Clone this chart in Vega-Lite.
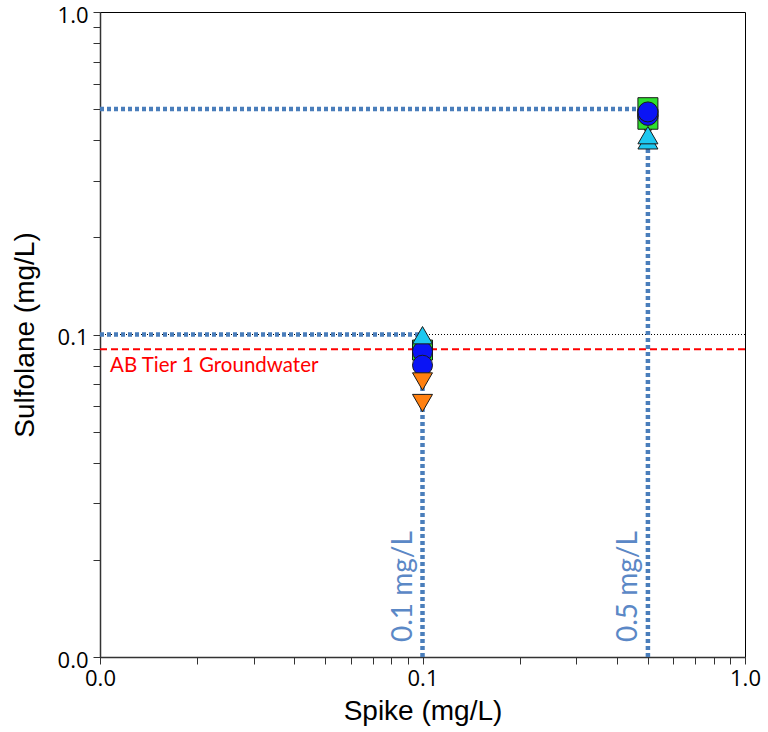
{
  "$schema": "https://vega.github.io/schema/vega-lite/v6.json",
  "width": 645,
  "height": 645,
  "autosize": {"type": "none"},
  "padding": {"left": 100, "top": 12, "right": 23, "bottom": 75},
  "background": "white",
  "config": {
    "view": {"stroke": "#000000", "strokeWidth": 1},
    "axis": {"grid": false, "domainColor": "#333333", "domainWidth": 1.5, "tickColor": "#333333", "labelFont": "Open Sans", "labelFontSize": 22, "labelColor": "#000000", "titleFont": "Liberation Sans", "titleFontSize": 28, "titleFontWeight": "normal", "titleColor": "#000000", "labelOverlap": false, "labelFlush": false}
  },
  "datasets": {
    "points": [
      {"spike": 0.5, "sulfolane": 0.44, "series": "D"},
      {"spike": 0.5, "sulfolane": 0.505, "series": "B"},
      {"spike": 0.5, "sulfolane": 0.465, "series": "B"},
      {"spike": 0.5, "sulfolane": 0.478, "series": "C"},
      {"spike": 0.5, "sulfolane": 0.49, "series": "C"},
      {"spike": 0.5, "sulfolane": 0.4, "series": "A"},
      {"spike": 0.5, "sulfolane": 0.415, "series": "A"},
      {"spike": 0.1, "sulfolane": 0.0895, "series": "B"},
      {"spike": 0.1, "sulfolane": 0.0885, "series": "C"},
      {"spike": 0.1, "sulfolane": 0.0803, "series": "C"},
      {"spike": 0.1, "sulfolane": 0.0715, "series": "D"},
      {"spike": 0.1, "sulfolane": 0.0613, "series": "D"},
      {"spike": 0.1, "sulfolane": 0.0995, "series": "A"}
    ],
    "segments": [
      {"x1": 0.01, "x2": 0.1, "y1": 0.1, "y2": 0.1},
      {"x1": 0.1, "x2": 0.1, "y1": 0.01, "y2": 0.1},
      {"x1": 0.01, "x2": 0.5, "y1": 0.5, "y2": 0.5},
      {"x1": 0.5, "x2": 0.5, "y1": 0.01, "y2": 0.5}
    ],
    "spikeLabels": [
      {"x": 0.1, "y": 0.01, "label": "0.1 mg/L"},
      {"x": 0.5, "y": 0.01, "label": "0.5 mg/L"}
    ]
  },
  "layer": [
    {
      "data": {"values": [{"y": 0.1}]},
      "mark": {"type": "rule", "color": "#000000", "strokeWidth": 1, "strokeDash": [1, 2]},
      "encoding": {
        "y": {"field": "y", "type": "quantitative", "scale": {"type": "log", "domain": [0.01, 1]}}
      }
    },
    {
      "data": {"values": [{"y": 0.09}]},
      "mark": {"type": "rule", "color": "#ff0000", "strokeWidth": 2, "strokeDash": [7, 4]},
      "encoding": {
        "y": {"field": "y", "type": "quantitative"}
      }
    },
    {
      "data": {"values": [{"x": 0.01, "y": 0.09, "label": "AB Tier 1 Groundwater"}]},
      "mark": {"type": "text", "color": "#ff0000", "font": "Lato", "fontSize": 20.5, "align": "left", "baseline": "middle", "dx": 10, "dy": 17},
      "encoding": {
        "x": {"field": "x", "type": "quantitative"},
        "y": {"field": "y", "type": "quantitative"},
        "text": {"field": "label"}
      }
    },
    {
      "data": {"name": "segments"},
      "mark": {"type": "rule", "color": "#4a7ebb", "strokeWidth": 4.5, "strokeDash": [4, 3]},
      "encoding": {
        "x": {"field": "x1", "type": "quantitative"},
        "x2": {"field": "x2"},
        "y": {"field": "y1", "type": "quantitative"},
        "y2": {"field": "y2"}
      }
    },
    {
      "data": {"name": "spikeLabels"},
      "mark": {"type": "text", "color": "#5b88c6", "font": "Lato", "fontSize": 28, "angle": 270, "align": "left", "baseline": "alphabetic", "dx": 15, "dy": -11},
      "encoding": {
        "x": {"field": "x", "type": "quantitative"},
        "y": {"field": "y", "type": "quantitative"},
        "text": {"field": "label"}
      }
    },
    {
      "data": {"name": "points"},
      "mark": {"type": "point", "filled": true, "opacity": 1, "stroke": "#1a1a1a", "strokeWidth": 1, "size": 400},
      "encoding": {
        "x": {
          "field": "spike", "type": "quantitative", "title": "Spike (mg/L)",
          "scale": {"type": "log", "domain": [0.01, 1]},
          "axis": {
            "values": [0.01, 0.02, 0.03, 0.04, 0.05, 0.06, 0.07, 0.08, 0.09, 0.1, 0.2, 0.3, 0.4, 0.5, 0.6, 0.7, 0.8, 0.9, 1],
            "labelExpr": "indexof([0.01, 0.1, 1], datum.value) >= 0 ? format(datum.value, '.1f') : ''",
            "tickSize": 7, "labelPadding": 4, "titlePadding": 8
          }
        },
        "y": {
          "field": "sulfolane", "type": "quantitative", "title": "Sulfolane (mg/L)",
          "scale": {"type": "log", "domain": [0.01, 1]},
          "axis": {
            "values": [0.01, 0.02, 0.03, 0.04, 0.05, 0.06, 0.07, 0.08, 0.09, 0.1, 0.2, 0.3, 0.4, 0.5, 0.6, 0.7, 0.8, 0.9, 1],
            "labelExpr": "indexof([0.01, 0.1, 1], datum.value) >= 0 ? format(datum.value, '.1f') : ''",
            "tickSize": 7, "labelPadding": 5, "labelOffset": 3, "titlePadding": 18
          }
        },
        "color": {
          "field": "series", "type": "nominal", "legend": null,
          "scale": {"domain": ["A", "B", "C", "D"], "range": ["#1ec8f0", "#2ee02e", "#0a14f5", "#ff8010"]}
        },
        "shape": {
          "field": "series", "type": "nominal", "legend": null,
          "scale": {"domain": ["A", "B", "C", "D"], "range": ["triangle-up", "square", "circle", "triangle-down"]}
        }
      }
    }
  ]
}
